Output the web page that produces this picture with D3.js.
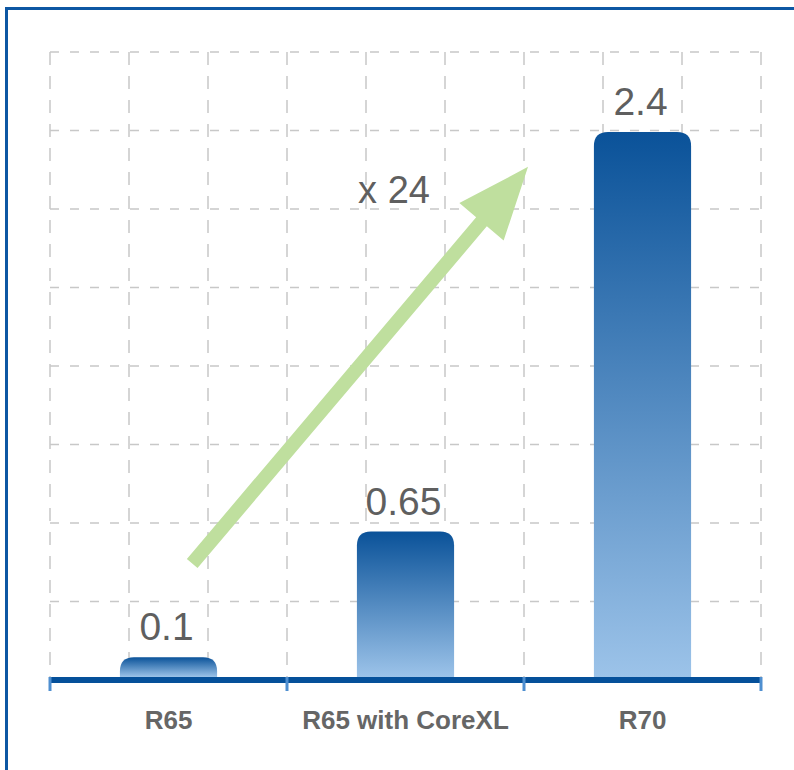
<!DOCTYPE html>
<html>
<head>
<meta charset="utf-8">
<script src="https://cdn.jsdelivr.net/npm/d3@7"></script>
<style>
  body { margin: 0; background: #fff; }
  svg text { font-family: "Liberation Sans", Arial, Helvetica, sans-serif; }
</style>
</head>
<body>
<div id="chart"></div>
<script>
// chart data
var categories = ["R65", "R65 with CoreXL", "R70"];
var values = [0.1, 0.65, 2.4];
var valueLabels = ["0.1", "0.65", "2.4"];
var arrowLabel = "x 24";

// annotation arrow, in category units (x) and value units (y)
var arrowFrom = [0.6, 0.51];
var arrowTo = [2.017, 2.247];

let width = 794;
let height = 770;

let svg = d3.select('#chart')
  .append('svg')
  .attr('width', width)
  .attr('height', height);

/** scales */
let plotLeft = 50, plotRight = 761, plotBase = 680, plotTop = 52;
let x = d3.scaleBand().domain(categories).range([plotLeft, plotRight]);
let xu = d3.scaleLinear().domain([0, categories.length]).range([plotLeft, plotRight]);
let y = d3.scaleLinear().domain([0, 2.75]).range([plotBase, plotTop]);

/** frame */
svg.append('path')
  .attr('d', `M6.5,${height + 5} V8.5 H${width + 5}`)
  .attr('fill', 'none')
  .attr('stroke', '#0d57a3')
  .attr('stroke-width', 3);

/** gradient for each bar */
let defs = svg.append('defs');
categories.forEach((c, i) => {
  let g = defs.append('linearGradient')
    .attr('id', 'barGrad' + i)
    .attr('x1', 0).attr('y1', 0).attr('x2', 0).attr('y2', 1);
  g.append('stop').attr('offset', '0%').attr('stop-color', '#0a5299');
  g.append('stop').attr('offset', '100%').attr('stop-color', '#9cc3e9');
});

/** grid */
let rows = 8, subCols = 3;
let grid = svg.append('g').attr('stroke', '#c8c8c8').attr('stroke-width', 1.5);
d3.range(rows).forEach(k => {
  let yy = y(y.domain()[1] * (rows - k) / rows);
  grid.append('line')
    .attr('x1', plotLeft).attr('x2', plotRight)
    .attr('y1', yy).attr('y2', yy)
    .attr('stroke-dasharray', '9,11');
});
d3.range(categories.length * subCols + 1).forEach(k => {
  let xx = xu(k / subCols);
  grid.append('line')
    .attr('x1', xx).attr('x2', xx)
    .attr('y1', plotTop).attr('y2', plotBase)
    .attr('stroke-dasharray', '13,11');
});

/** bars */
let bw = x.bandwidth() * 0.41;
let r = 14;
function barPath(d) {
  let cx = x(d.c) + x.bandwidth() / 2;
  let x0 = cx - bw / 2, x1 = cx + bw / 2;
  let y0 = y(d.v), y1 = plotBase - 3;
  let rr = Math.min(r, (y1 - y0));
  return `M${x0},${y1} V${y0 + rr} Q${x0},${y0} ${x0 + rr},${y0} H${x1 - rr} Q${x1},${y0} ${x1},${y0 + rr} V${y1} Z`;
}
let data = categories.map((c, i) => ({ c: c, v: values[i], label: valueLabels[i], i: i }));

svg.selectAll('.bar')
  .data(data)
  .enter()
  .append('path')
  .attr('class', 'bar')
  .attr('d', barPath)
  .attr('fill', d => `url(#barGrad${d.i})`);

svg.selectAll('.val')
  .data(data)
  .enter()
  .append('text')
  .attr('class', 'val')
  .attr('x', d => x(d.c) + x.bandwidth() / 2 - 2)
  .attr('y', d => y(d.v) - 17)
  .attr('text-anchor', 'middle')
  .attr('font-size', 39)
  .attr('fill', '#5f5f5f')
  .text(d => d.label);

/** axis line and ticks */
svg.append('line')
  .attr('x1', plotLeft).attr('x2', plotRight + 1)
  .attr('y1', plotBase).attr('y2', plotBase)
  .attr('stroke', '#05509a')
  .attr('stroke-width', 6);

d3.range(categories.length + 1).forEach(k => {
  svg.append('line')
    .attr('x1', xu(k)).attr('x2', xu(k))
    .attr('y1', plotBase - 3).attr('y2', plotBase + 11)
    .attr('stroke', '#4f8fd0')
    .attr('stroke-width', 3);
});

svg.selectAll('.cat')
  .data(categories)
  .enter()
  .append('text')
  .attr('class', 'cat')
  .attr('x', d => x(d) + x.bandwidth() / 2)
  .attr('y', 729)
  .attr('text-anchor', 'middle')
  .attr('font-size', 26)
  .attr('font-weight', 'bold')
  .attr('fill', '#666666')
  .text(d => d);

/** growth arrow */
let p0 = [xu(arrowFrom[0]), y(arrowFrom[1])];
let p1 = [xu(arrowTo[0]), y(arrowTo[1])];
let dx = p1[0] - p0[0], dy = p1[1] - p0[1];
let len = Math.hypot(dx, dy);
let ux = dx / len, uy = dy / len;
let nx = -uy, ny = ux;
let shaft = 7, headLen = 72, headHalf = 29;
let hb = [p1[0] - ux * headLen, p1[1] - uy * headLen];
let pts = [
  [p0[0] + nx * shaft, p0[1] + ny * shaft],
  [hb[0] + nx * shaft, hb[1] + ny * shaft],
  [hb[0] + nx * headHalf, hb[1] + ny * headHalf],
  p1,
  [hb[0] - nx * headHalf, hb[1] - ny * headHalf],
  [hb[0] - nx * shaft, hb[1] - ny * shaft],
  [p0[0] - nx * shaft, p0[1] - ny * shaft]
];
svg.append('polygon')
  .attr('points', pts.map(p => p.join(',')).join(' '))
  .attr('fill', '#bfdf9e');

svg.append('text')
  .attr('x', 394)
  .attr('y', 203)
  .attr('text-anchor', 'middle')
  .attr('font-size', 38)
  .attr('fill', '#5f5f5f')
  .text(arrowLabel);
</script>
</body>
</html>
